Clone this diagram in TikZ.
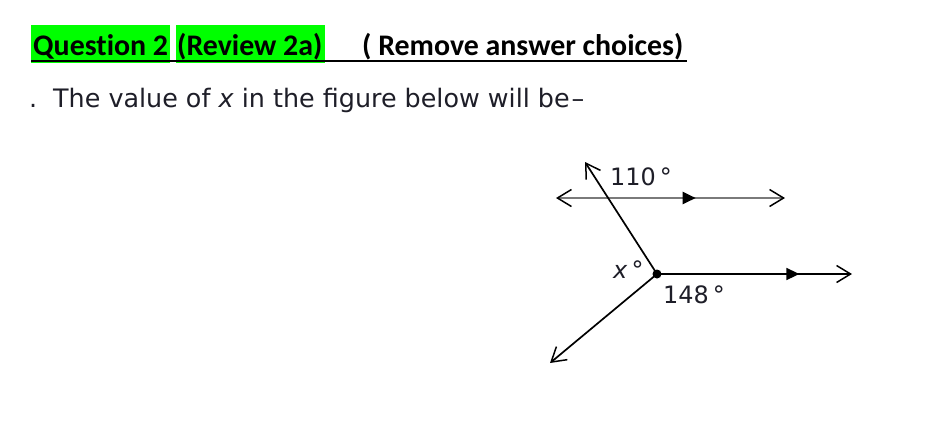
\documentclass[tikz,border=0pt]{standalone}
\usepackage{fontspec}
\setmainfont{DejaVu Sans}
\newfontfamily\hdfont[Ligatures=NoCommon]{Carlito}
\usetikzlibrary{arrows.meta,decorations.markings}
\definecolor{ink}{HTML}{1E1E28}
\definecolor{hlgreen}{HTML}{00FF00}
\definecolor{lgray}{HTML}{7A7A7A}
\tikzset{
  hdr/.style={font=\hdfont\bfseries\fontsize{30}{32}\selectfont, anchor=base west, inner sep=0pt, text=black},
  body/.style={font=\fontsize{25.5}{27}\selectfont, anchor=base west, inner sep=0pt, text=ink},
  lbl/.style={font=\fontsize{24}{26}\selectfont, anchor=base west, inner sep=0pt, text=ink},
  barb/.tip={Straight Barb[length=14bp,width=17bp,line width=1.5bp]},
  ray/.style={line width=1.7bp, black},
  midtri/.style={postaction={decorate, decoration={markings,
      mark=at position #1 with {\arrow[black]{Triangle[length=13bp,width=12bp]}}}}}
}
\begin{document}
\begin{tikzpicture}[x=1bp,y=-1bp]
\useasboundingbox[fill=white] (0,0) rectangle (942,425);
% header highlight boxes
\fill[hlgreen] (31,25) rectangle (170,63);
\fill[hlgreen] (176,25) rectangle (325,63);
\node[hdr] (q) at (33,55) {Question 2};
\node[hdr] (rev) at (177,55) {(Review 2a)};
\node[hdr] (rem) at (362,55) {( Remove answer choices)};
\coordinate (ulA) at (31,61);
\coordinate (ulB) at (687,61);
\draw[line width=2.5bp] (ulA) -- (ulB);
% question line
\node[body] (dot) at (29,107) {.};
\node[body] (qtext) at (53,107) {The value of \textit{x} in the figure below will be\kern2bp–};
% figure
\coordinate (V) at (657,274);
\coordinate (L1) at (556,198);
\coordinate (R1) at (785,198);
\coordinate (T) at (585,162);
\coordinate (R2) at (852,274);
\coordinate (D) at (550,363);
\draw[line width=2.3bp, lgray, {barb[color=black]}-{barb[color=black]}, midtri=0.61] (L1) -- (R1);
\draw[ray, -{barb}] (V) -- (T);
\draw[ray, -{barb}] (V) -- (D);
\draw[ray, -{barb}, midtri=0.73] (V) -- (R2);
\node[circle, fill=black, inner sep=0pt, minimum size=9bp] (vdot) at (V) {};
\node[lbl] (a110) at (610,185) {110\,°};
\node[lbl] (ax) at (613,278) {\textit{x}\,°};
\node[lbl] (a148) at (663,303) {148\,°};
\end{tikzpicture}
\end{document}
